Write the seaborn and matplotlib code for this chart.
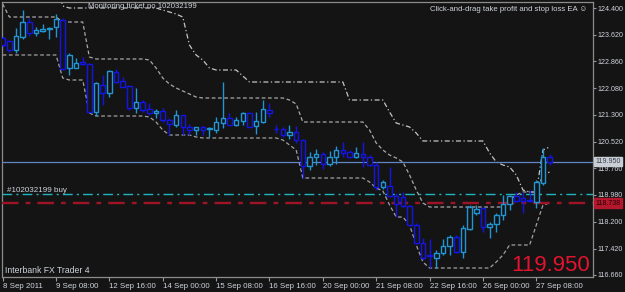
import matplotlib
matplotlib.use("Agg")
import matplotlib.pyplot as plt
import seaborn as sns
import numpy as np
import pandas as pd

# ---------------- data (H4 bars) ----------------
opens = [123.530, 123.443, 123.183, 123.559, 123.994, 123.675, 123.733, 123.780, 123.849, 124.052,
         122.661, 122.661, 122.835, 122.777, 121.385, 122.168, 121.936, 122.545, 122.284, 122.139,
         121.501, 121.675, 121.472, 121.356, 121.414, 121.153, 121.008, 121.298, 120.950, 120.863,
         120.950, 120.892, 120.863, 121.066, 121.211, 121.008, 121.124, 121.356, 120.979, 121.095,
         121.443, 120.900, 120.892, 120.718, 120.805, 120.574, 119.820, 120.081, 120.168, 119.878,
         120.081, 120.284, 120.226, 120.081, 120.168, 120.081, 119.849, 119.211, 119.240, 118.950,
         118.921, 118.660, 118.109, 117.588, 117.240, 117.153, 117.298, 117.501, 117.762, 117.327,
         117.994, 118.457, 118.602, 118.052, 118.138, 118.399, 118.718, 118.950, 118.892, 118.834,
         118.776, 119.327, 120.081]
highs = [123.588, 123.470, 123.820, 124.342, 124.110, 123.849, 123.936, 123.849, 124.226, 124.110,
         123.096, 122.951, 122.980, 122.806, 122.255, 122.458, 122.603, 122.632, 122.400, 122.168,
         122.081, 121.733, 121.646, 121.472, 121.501, 121.211, 121.443, 121.300, 121.037, 120.950,
         120.979, 120.950, 121.240, 122.255, 121.356, 121.240, 121.385, 121.385, 121.385, 121.733,
         121.646, 121.008, 120.950, 121.008, 120.979, 120.600, 120.226, 120.313, 120.226, 120.255,
         120.400, 120.516, 120.284, 120.371, 120.516, 120.139, 119.936, 119.414, 119.791, 119.037,
         119.066, 118.689, 118.168, 117.733, 117.704, 117.385, 117.704, 117.820, 117.820, 118.109,
         118.689, 118.689, 118.631, 118.196, 118.457, 118.979, 118.979, 119.066, 119.066, 119.124,
         119.414, 120.342, 120.168]
lows = [123.270, 123.125, 123.096, 123.501, 123.588, 123.588, 123.704, 123.501, 123.559, 122.603,
        122.458, 122.650, 122.760, 121.356, 121.269, 121.588, 121.820, 122.226, 122.110, 121.443,
        121.356, 121.385, 121.298, 121.211, 121.095, 120.718, 120.950, 120.718, 120.718, 120.718,
        120.718, 120.661, 120.776, 120.921, 121.000, 120.979, 121.008, 120.950, 120.748, 121.066,
        121.240, 120.776, 120.661, 120.603, 120.487, 119.472, 119.704, 119.849, 119.733, 119.820,
        119.878, 120.081, 120.060, 120.060, 119.791, 119.820, 119.124, 119.153, 118.921, 118.341,
        118.631, 118.081, 117.559, 117.095, 116.863, 116.863, 117.240, 117.240, 117.298, 117.153,
        117.965, 118.399, 117.907, 117.733, 117.907, 118.254, 118.544, 118.776, 118.457, 118.776,
        118.602, 119.269, 119.849]
closes = [123.327, 123.183, 123.588, 123.994, 123.675, 123.762, 123.791, 123.820, 124.081, 122.632,
          123.038, 122.806, 122.777, 121.385, 122.226, 121.936, 122.574, 122.255, 122.110, 121.501,
          121.675, 121.443, 121.356, 121.414, 121.153, 121.037, 121.298, 120.950, 120.863, 120.950,
          120.863, 120.921, 121.095, 121.211, 121.008, 121.153, 121.356, 120.950, 121.124, 121.472,
          121.356, 120.890, 120.718, 120.805, 120.574, 119.820, 120.081, 120.168, 119.878, 120.081,
          120.284, 120.197, 120.081, 120.197, 120.081, 119.849, 119.211, 119.356, 118.950, 118.718,
          118.660, 118.109, 117.588, 117.153, 117.211, 117.298, 117.501, 117.762, 117.327, 118.023,
          118.631, 118.573, 118.052, 118.138, 118.399, 118.718, 118.950, 118.805, 118.805, 118.805,
          119.356, 120.081, 119.950]

upper_band = [125.200, 125.200, 125.200, 125.200, 125.200, 125.200, 125.200, 125.200, 125.200, 124.458,
              124.400, 124.400, 124.400, 124.400, 124.400, 124.400, 124.400, 124.400, 124.400, 124.400,
              124.400, 124.400, 124.400, 124.400, 124.342, 124.284, 124.226, 124.139, 123.327, 123.038,
              122.893, 122.661, 122.603, 122.603, 122.603, 122.603, 122.429, 122.255, 122.255, 122.255,
              122.255, 122.255, 122.255, 122.255, 122.255, 122.255, 122.255, 122.255, 122.255, 122.255,
              122.255, 122.255, 121.733, 121.733, 121.733, 121.733, 121.733, 121.733, 121.385, 121.066,
              121.008, 120.950, 120.776, 120.545, 120.545, 120.545, 120.545, 120.545, 120.545, 120.545,
              120.545, 120.545, 120.545, 120.197, 119.936, 119.849, 119.791, 119.559, 119.124, 119.066,
              119.066, 120.284, 120.371]
middle_band = [124.516, 124.139, 124.139, 124.139, 124.139, 124.139, 124.139, 124.139, 124.139, 123.994,
               123.994, 123.994, 123.994, 122.980, 122.922, 122.922, 122.922, 122.922, 122.922, 122.922,
               122.922, 122.922, 122.893, 122.661, 122.371, 122.197, 122.081, 121.994, 121.907, 121.820,
               121.791, 121.791, 121.791, 121.791, 121.791, 121.791, 121.791, 121.791, 121.791, 121.791,
               121.791, 121.791, 121.791, 121.733, 121.617, 121.095, 121.095, 121.095, 121.095, 121.095,
               121.095, 121.095, 121.095, 121.095, 121.095, 120.863, 120.487, 120.284, 120.139, 120.052,
               119.936, 119.559, 119.124, 118.747, 118.631, 118.631, 118.631, 118.631, 118.631, 118.631,
               118.631, 118.631, 118.631, 118.631, 118.631, 118.631, 118.834, 118.979, 119.066, 119.066,
               119.066, 119.559, 119.646]
lower_band = [123.038, 123.038, 123.038, 123.038, 123.038, 123.038, 123.038, 123.038, 123.038, 122.371,
              122.313, 122.313, 122.313, 121.356, 121.269, 121.269, 121.269, 121.269, 121.269, 121.269,
              121.269, 121.269, 121.240, 121.095, 120.863, 120.718, 120.718, 120.718, 120.718, 120.661,
              120.632, 120.632, 120.632, 120.632, 120.632, 120.632, 120.632, 120.632, 120.632, 120.632,
              120.632, 120.632, 120.574, 120.429, 120.284, 119.472, 119.472, 119.472, 119.472, 119.472,
              119.472, 119.472, 119.472, 119.472, 119.472, 119.356, 119.182, 119.095, 118.689, 118.341,
              118.341, 118.109, 117.530, 117.037, 116.863, 116.863, 116.863, 116.863, 116.863, 116.863,
              116.863, 116.863, 116.863, 116.863, 117.037, 117.240, 117.530, 117.530, 117.530, 117.530,
              118.109, 118.689, 118.747]

time_labels = ["8 Sep 2011", "9 Sep 08:00", "12 Sep 16:00", "14 Sep 00:00", "15 Sep 08:00",
               "16 Sep 16:00", "20 Sep 00:00", "21 Sep 08:00", "22 Sep 16:00", "26 Sep 00:00",
               "27 Sep 08:00"]
time_label_bars = [0, 8, 16, 24, 32, 40, 48, 56, 64, 72, 80]
price_ticks = [124.400, 123.620, 122.860, 122.080, 121.300, 120.520, 119.760, 118.980,
               118.200, 117.420, 116.660]
bid_price = 119.950
order_price = 119.000
stop_price = 118.738

# ---------------- style ----------------
BG = "#141414"
BULL = "#2196d3"
BEAR = "#1414e6"
TXT = "#d0d4dc"
sns.set_style("dark", {"axes.facecolor": BG, "figure.facecolor": BG})
plt.rcParams["font.family"] = ["Liberation Sans", "DejaVu Sans"]

W, H = 625, 292
fig = plt.figure(figsize=(W / 100, H / 100), dpi=100, facecolor=BG)
ax = fig.add_axes([2 / W, 15 / H, 591 / W, 275 / H], facecolor=BG)

df = pd.DataFrame({"bar": np.arange(len(opens)), "open": opens, "high": highs,
                   "low": lows, "close": closes, "upper": upper_band,
                   "middle": middle_band, "lower": lower_band})
df["bull"] = df["close"] >= df["open"]
df["col"] = np.where(df["bull"], BULL, BEAR)

# channel lines
sns.lineplot(data=df, x="bar", y="upper", ax=ax, color="#c4c4c4", lw=0.9,
             linestyle=(0, (4, 2, 1, 2)), zorder=2)
sns.lineplot(data=df, x="bar", y="middle", ax=ax, color="#a8a8a8", lw=0.9,
             linestyle=(0, (3, 2)), zorder=2)
sns.lineplot(data=df, x="bar", y="lower", ax=ax, color="#a0a0a0", lw=0.9,
             linestyle=(0, (3, 2)), zorder=2)

# horizontal price lines
ax.axhline(bid_price, color="#6485c4", lw=0.9, zorder=3)
ax.axhline(order_price, color="#1fb5bf", lw=1.0, linestyle=(0, (7, 3, 1.5, 3)), zorder=3)
ax.axhline(stop_price, color="#9e1426", lw=1.7, linestyle=(0, (7, 3, 2, 3)), zorder=3)

# candles
ax.vlines(df["bar"], df["low"], df["high"], colors=df["col"], lw=1.0, zorder=4)
body_lo = df[["open", "close"]].min(axis=1)
body_h = (df["open"] - df["close"]).abs().clip(lower=0.012)
ax.bar(df["bar"], body_h, bottom=body_lo, width=0.68, facecolor=BG,
       edgecolor=df["col"], linewidth=1.0, zorder=5)

ax.set_xlim(-0.1, 88.5)
ax.set_ylim(116.602, 124.574)
ax.set_xlabel("")
ax.set_ylabel("")

ax.yaxis.tick_right()
ax.set_yticks(price_ticks)
ax.set_yticklabels([f"{v:.3f}" for v in price_ticks])
ax.set_xticks(time_label_bars)
ax.set_xticklabels(time_labels)
for lbl in ax.get_xticklabels():
    lbl.set_horizontalalignment("left")
ax.tick_params(axis="y", right=True, left=False, direction="out", length=2.5, width=0.8,
               color="#9a9a9a", labelcolor=TXT, labelsize=5.1, pad=1.0)
ax.tick_params(axis="x", bottom=True, direction="out", length=3, width=0.8,
               color="#9a9a9a", labelcolor=TXT, labelsize=5.7, pad=1.5)
for s in ax.spines.values():
    s.set_visible(True)
    s.set_color("#8c8c8c")
    s.set_linewidth(0.9)
ax.grid(False)

# right-side price boxes
def pbox(price, text, fc, tc):
    ax.annotate(text, xy=(1.0, price), xycoords=("axes fraction", "data"),
                xytext=(1.6, 0), textcoords="offset points", ha="left", va="center",
                fontsize=5.1, color=tc, zorder=10, annotation_clip=False,
                bbox=dict(boxstyle="square,pad=0.2", fc=fc, ec=fc))

pbox(bid_price, f"{bid_price:.3f}", "#c9cdd6", "#3a3f4a")
pbox(stop_price, f"{stop_price:.3f}", "#b3182c", "#2a0006")

def ftext(x, y, s, **kw):
    fig.text(x / W, 1 - y / H, s, **kw)

ftext(88, 7, "Monitoring ticket no 102032199", color=TXT, fontsize=5.6, va="center")
ftext(587, 9.5, "Click-and-drag take profit and stop loss EA \u263a", color=TXT,
      fontsize=5.6, va="center", ha="right")
ftext(7, 190.5, "#102032199 buy", color=TXT, fontsize=5.8, va="center")
ftext(5, 270.5, "Interbank FX Trader 4", color=TXT, fontsize=6.2, va="center")
ftext(590, 271, f"{bid_price:.3f}", color="#e3132f", fontsize=16, ha="right",
      va="baseline")

fig.savefig("out.png", dpi=100, facecolor=BG)
